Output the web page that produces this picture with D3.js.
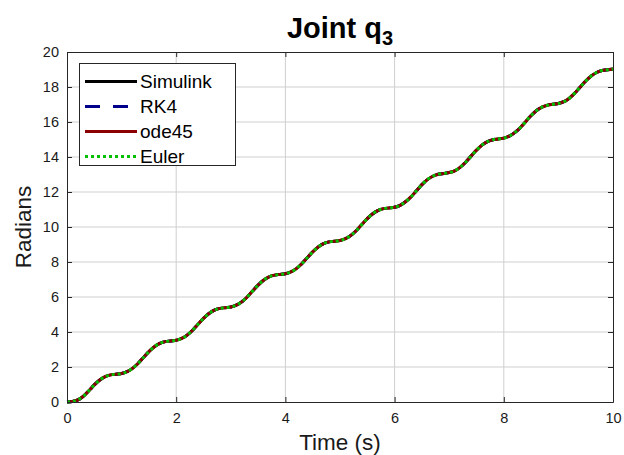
<!DOCTYPE html>
<html>
<head>
<meta charset="utf-8">
<script src="https://cdnjs.cloudflare.com/ajax/libs/d3/7.8.5/d3.min.js"></script>
<style>
  body { margin: 0; background: #fff; }
  svg { display: block; }
  text { font-family: "Liberation Sans", Arial, sans-serif; }
</style>
</head>
<body>
<svg id="chart" width="624" height="455"></svg>
<script>
// sample times (s)
const timeValues = [
    0.0, 0.1, 0.2, 0.3, 0.4, 0.5, 0.6, 0.7, 0.8, 0.9,
    1.0, 1.1, 1.2, 1.3, 1.4, 1.5, 1.6, 1.7, 1.8, 1.9,
    2.0, 2.1, 2.2, 2.3, 2.4, 2.5, 2.6, 2.7, 2.8, 2.9,
    3.0, 3.1, 3.2, 3.3, 3.4, 3.5, 3.6, 3.7, 3.8, 3.9,
    4.0, 4.1, 4.2, 4.3, 4.4, 4.5, 4.6, 4.7, 4.8, 4.9,
    5.0, 5.1, 5.2, 5.3, 5.4, 5.5, 5.6, 5.7, 5.8, 5.9,
    6.0, 6.1, 6.2, 6.3, 6.4, 6.5, 6.6, 6.7, 6.8, 6.9,
    7.0, 7.1, 7.2, 7.3, 7.4, 7.5, 7.6, 7.7, 7.8, 7.9,
    8.0, 8.1, 8.2, 8.3, 8.4, 8.5, 8.6, 8.7, 8.8, 8.9,
    9.0, 9.1, 9.2, 9.3, 9.4, 9.5, 9.6, 9.7, 9.8, 9.9,
    10.0
];

// joint q3 angle (rad); all four solvers overlap
const q3Values = [
    0.00, 0.03, 0.12, 0.33, 0.64, 0.98, 1.26, 1.45, 1.55, 1.59,
    1.63, 1.73, 1.92, 2.20, 2.54, 2.88, 3.16, 3.35, 3.45, 3.49,
    3.53, 3.63, 3.82, 4.10, 4.44, 4.78, 5.06, 5.25, 5.35, 5.39,
    5.43, 5.53, 5.72, 6.00, 6.34, 6.68, 6.96, 7.15, 7.25, 7.29,
    7.33, 7.43, 7.62, 7.90, 8.24, 8.58, 8.86, 9.05, 9.15, 9.19,
    9.23, 9.33, 9.52, 9.80, 10.14, 10.48, 10.76, 10.95, 11.05, 11.09,
    11.13, 11.24, 11.44, 11.72, 12.07, 12.42, 12.71, 12.90, 13.01, 13.06,
    13.11, 13.21, 13.41, 13.70, 14.05, 14.39, 14.68, 14.88, 14.99, 15.03,
    15.08, 15.19, 15.39, 15.67, 16.02, 16.37, 16.66, 16.85, 16.96, 17.01,
    17.06, 17.16, 17.36, 17.65, 18.00, 18.34, 18.63, 18.83, 18.94, 18.98,
    19.03
];

const simulinkValues = q3Values;
const rk4Values = q3Values;
const ode45Values = q3Values;
const eulerValues = q3Values;

const seriesNames = ["Simulink", "RK4", "ode45", "Euler"];
const seriesValues = [simulinkValues, rk4Values, ode45Values, eulerValues];
const seriesColors = ["#000000", "#00008b", "#8b0000", "#00c000"];
const seriesDash = ["none", "15 13", "none", "3 3"];

const xTicks = [0, 2, 4, 6, 8, 10];
const yTicks = [0, 2, 4, 6, 8, 10, 12, 14, 16, 18, 20];

const width = 624, height = 455;
const margin = {top: 52, right: 11, bottom: 53, left: 67};
const axisColor = "#262626";
const gridColor = "#cfcfcf";

let svg = d3.select("#chart");

let xScale = d3.scaleLinear()
    .domain([0, 10])
    .range([margin.left, width - margin.right]);

let yScale = d3.scaleLinear()
    .domain([0, 20])
    .range([height - margin.bottom, margin.top]);

// grid
svg.append("g")
    .selectAll("line")
    .data(xTicks.slice(1, -1))
    .enter()
    .append("line")
    .attr("x1", d => xScale(d))
    .attr("x2", d => xScale(d))
    .attr("y1", yScale(0))
    .attr("y2", yScale(20))
    .attr("stroke", gridColor)
    .attr("stroke-width", 1);

svg.append("g")
    .selectAll("line")
    .data(yTicks.slice(1, -1))
    .enter()
    .append("line")
    .attr("x1", xScale(0))
    .attr("x2", xScale(10))
    .attr("y1", d => yScale(d))
    .attr("y2", d => yScale(d))
    .attr("stroke", gridColor)
    .attr("stroke-width", 1);

// curves, drawn in legend order so Euler ends up on top
let line = d3.line()
    .x((d, i) => xScale(timeValues[i]))
    .y(d => yScale(d))
    .curve(d3.curveMonotoneX);

seriesValues.forEach(function(values, i) {
    svg.append("path")
        .datum(values)
        .attr("d", line)
        .attr("fill", "none")
        .attr("stroke", seriesColors[i])
        .attr("stroke-width", 3)
        .attr("stroke-dasharray", seriesDash[i]);
});

// axes (inward ticks, box on all four sides)
function styleAxis(g) {
    g.select(".domain").attr("stroke", axisColor);
    g.selectAll(".tick line").attr("stroke", axisColor);
    g.selectAll("text")
        .style("font-size", "14.5px")
        .style("fill", "#1a1a1a");
}

svg.append("g")
    .attr("transform", "translate(0," + yScale(0) + ")")
    .call(d3.axisBottom(xScale).tickValues(xTicks).tickSize(-5).tickPadding(11).tickSizeOuter(0))
    .call(styleAxis);

svg.append("g")
    .attr("transform", "translate(0," + yScale(20) + ")")
    .call(d3.axisTop(xScale).tickValues(xTicks).tickSize(-5).tickFormat("").tickSizeOuter(0))
    .call(styleAxis);

svg.append("g")
    .attr("transform", "translate(" + xScale(0) + ",0)")
    .call(d3.axisLeft(yScale).tickValues(yTicks).tickSize(-5).tickPadding(8).tickSizeOuter(0))
    .call(styleAxis);

svg.append("g")
    .attr("transform", "translate(" + xScale(10) + ",0)")
    .call(d3.axisRight(yScale).tickValues(yTicks).tickSize(-5).tickFormat("").tickSizeOuter(0))
    .call(styleAxis);

// title
let title = svg.append("text")
    .attr("x", (xScale(0) + xScale(10)) / 2)
    .attr("y", 38)
    .style("text-anchor", "middle")
    .style("font-size", "29px")
    .style("font-weight", "bold")
    .style("fill", "#000");
title.append("tspan").text("Joint q");
title.append("tspan")
    .attr("dy", 7)
    .style("font-size", "20px")
    .text("3");

// axis labels
svg.append("text")
    .attr("x", (xScale(0) + xScale(10)) / 2)
    .attr("y", 450)
    .style("text-anchor", "middle")
    .style("font-size", "22.5px")
    .style("fill", "#1a1a1a")
    .text("Time (s)");

svg.append("text")
    .attr("transform", "translate(31," + (yScale(0) + yScale(20)) / 2 + ") rotate(-90)")
    .style("text-anchor", "middle")
    .style("font-size", "22.5px")
    .style("fill", "#1a1a1a")
    .text("Radians");

// legend
let legend = svg.append("g");
legend.append("rect")
    .attr("x", 79.5)
    .attr("y", 63.5)
    .attr("width", 156)
    .attr("height", 102)
    .attr("fill", "#fff")
    .attr("stroke", axisColor)
    .attr("stroke-width", 1);

seriesNames.forEach(function(name, i) {
    let rowY = 81.5 + i * 25;
    legend.append("line")
        .attr("x1", 85)
        .attr("x2", 137)
        .attr("y1", rowY)
        .attr("y2", rowY)
        .attr("stroke", seriesColors[i])
        .attr("stroke-width", 3)
        .attr("stroke-dasharray", seriesDash[i]);
    legend.append("text")
        .attr("x", 140)
        .attr("y", rowY + 6.5)
        .style("font-size", "19px")
        .style("fill", "#000")
        .text(name);
});
</script>
</body>
</html>
